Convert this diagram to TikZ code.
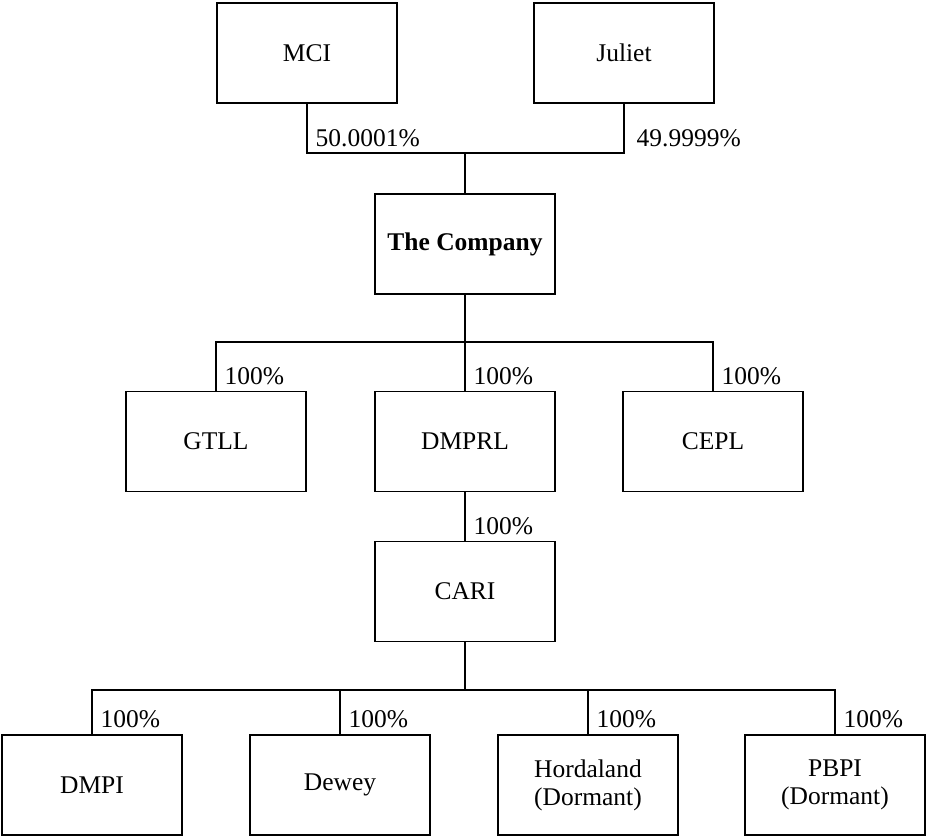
\documentclass[tikz,border=0pt]{standalone}
\usepackage{fontspec}
\setmainfont{Liberation Serif}

\begin{document}
\begin{tikzpicture}[font=\fontsize{14.5}{16}\selectfont, line width=0.8pt,
        unit/.style={draw, minimum width=3.6cm, minimum height=2cm, align=center, inner sep=0pt},
        pct/.style={anchor=base west, inner sep=0pt}]
        \useasboundingbox (0,0) rectangle (18.52,-16.72);

        \node[unit](mci) at (6.14, -1.06) {MCI};
        \node[unit](juliet) at (12.48, -1.06) {Juliet};
        \coordinate(j0) at (9.3, -3.06);
        \draw[-] (mci.south) |- (j0) -| (juliet.south);
        \node[pct](pmci) at (6.30, -2.94) {50.0001\%};
        \node[pct](pjuliet) at (12.72, -2.94) {49.9999\%};

        \node[unit](co) at (9.3, -4.88) {\textbf{The Company}};
        \draw[-] (j0) to (co.north);

        \node[unit](gtll) at (4.32, -8.83) {GTLL};
        \node[unit](dmprl) at (9.3, -8.83) {DMPRL};
        \node[unit](cepl) at (14.26, -8.83) {CEPL};
        \coordinate(j1) at (9.3, -6.84);
        \draw[-] (co.south) to (j1);
        \draw[-] (gtll.north) |- (j1) -| (cepl.north);
        \draw[-] (j1) to (dmprl.north);
        \node[pct](pgtll) at (4.48, -7.69) {100\%};
        \node[pct](pdmprl) at (9.46, -7.69) {100\%};
        \node[pct](pcepl) at (14.42, -7.69) {100\%};

        \node[unit](cari) at (9.3, -11.83) {CARI};
        \draw[-] (dmprl.south) to (cari.north);
        \node[pct](pcari) at (9.46, -10.69) {100\%};

        \node[unit](dmpi) at (1.84, -15.7) {DMPI};
        \node[unit](dewey) at (6.8, -15.7) {Dewey};
        \node[unit](horda) at (11.76, -15.7) {Hordaland\\(Dormant)};
        \node[unit](pbpi) at (16.7, -15.7) {PBPI\\(Dormant)};
        \coordinate(j2) at (9.3, -13.8);
        \draw[-] (cari.south) to (j2);
        \draw[-] (dmpi.north) |- (j2) -| (pbpi.north);
        \draw[-] (dewey.north) to (dewey.north |- j2);
        \draw[-] (horda.north) to (horda.north |- j2);
        \node[pct](pdmpi) at (2.0, -14.56) {100\%};
        \node[pct](pdewey) at (6.96, -14.56) {100\%};
        \node[pct](phorda) at (11.92, -14.56) {100\%};
        \node[pct](ppbpi) at (16.86, -14.56) {100\%};
\end{tikzpicture}
\end{document}
